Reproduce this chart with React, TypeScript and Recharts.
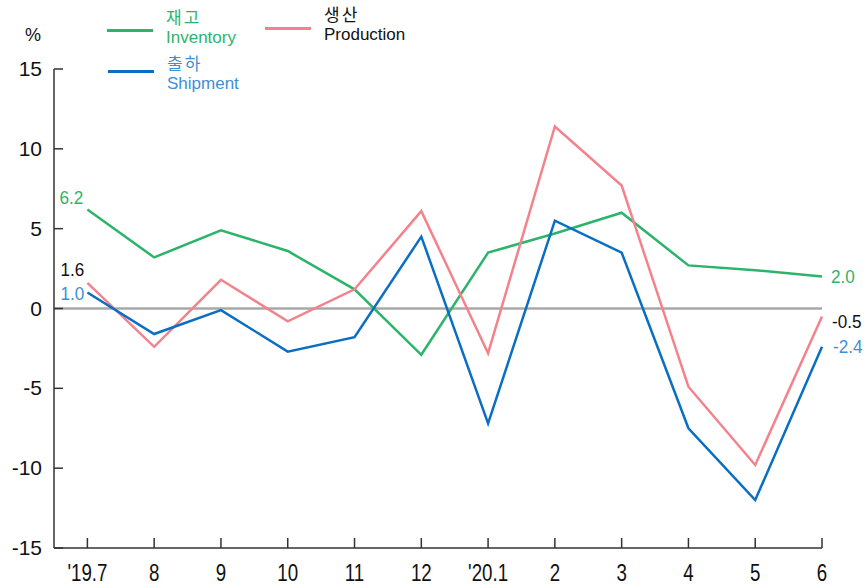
import React from 'react'
import { LineChart, Line, XAxis, YAxis, ReferenceLine } from 'recharts'

const months = ["'19.7", '8', '9', '10', '11', '12', "'20.1", '2', '3', '4', '5', '6']
const inventory = [6.2, 3.2, 4.9, 3.6, 1.2, -2.9, 3.5, 4.7, 6.0, 2.7, 2.4, 2.0]
const production = [1.6, -2.4, 1.8, -0.8, 1.2, 6.1, -2.8, 11.4, 7.7, -4.9, -9.8, -0.5]
const shipment = [1.0, -1.6, -0.1, -2.7, -1.8, 4.5, -7.2, 5.5, 3.5, -7.5, -12.0, -2.4]
const yTicks = [-15, -10, -5, 0, 5, 10, 15]

const GREEN = '#2db46a'
const PINK = '#f2838c'
const BLUE = '#0a6fc2'
const LIGHT_BLUE = '#3d8fd6'
const AXIS = '#333333'
const FONT = 'Liberation Sans, Arial, sans-serif'

const data = months.map((m, i) => ({
  i,
  inventory: inventory[i],
  production: production[i],
  shipment: shipment[i],
}))

const YTick = (props: any) => {
  const { x, y, payload } = props
  return (
    <g>
      <line x1={x} x2={x + 9} y1={y} y2={y} stroke={AXIS} strokeWidth={1.5} />
      <text x={x - 12} y={y} dy={7} textAnchor="end" fontSize={21} fontFamily={FONT} fill="#111">
        {payload.value}
      </text>
    </g>
  )
}

// x labels are condensed in the original
const XTick = (props: any) => {
  const { x, y, payload } = props
  return (
    <g>
      <line x1={x} x2={x} y1={y} y2={y - 10} stroke={AXIS} strokeWidth={1.5} />
      <text
        transform={`translate(${x},${y + 33}) scale(0.78,1)`}
        textAnchor="middle"
        fontSize={24}
        fontFamily={FONT}
        fill="#111"
      >
        {months[payload.value]}
      </text>
    </g>
  )
}

// only first and last point get a value label
const makeLabel = (color: string, first: [number, number], last: [number, number]) => (props: any) => {
  const { x, y, index, value } = props
  if (index === 0) {
    return (
      <text
        transform={`translate(${x + first[0]},${y + first[1]}) scale(0.9,1)`}
        textAnchor="middle"
        fontSize={19}
        fontFamily={FONT}
        fill={color}
      >
        {value.toFixed(1)}
      </text>
    )
  }
  if (index === months.length - 1) {
    return (
      <text
        transform={`translate(${x + last[0]},${y + last[1]}) scale(0.9,1)`}
        textAnchor="start"
        fontSize={19}
        fontFamily={FONT}
        fill={color}
      >
        {value.toFixed(1)}
      </text>
    )
  }
  return null
}

const legendText = (color: string, left: number, top: number, ko: string, en: string) => (
  <div style={{ position: 'absolute', left, top, color, fontFamily: FONT, lineHeight: '21px' }}>
    <div style={{ fontSize: 17, fontFamily: '"Noto Sans CJK KR", sans-serif', letterSpacing: 2 }}>{ko}</div>
    <div style={{ fontSize: 17 }}>{en}</div>
  </div>
)

const legendLine = (color: string, left: number, top: number) => (
  <div style={{ position: 'absolute', left, top, width: 46, height: 3, background: color }} />
)

export default function App() {
  return (
    <div style={{ position: 'absolute', left: 0, top: 0, width: 865, height: 587, background: '#fff' }}>
      <LineChart width={865} height={587} data={data} margin={{ top: 69, right: 43, bottom: 9, left: 14 }}>
        <XAxis
          dataKey="i"
          type="number"
          domain={[-0.5, 11]}
          ticks={months.map((_, i) => i)}
          tick={<XTick />}
          tickLine={false}
          tickSize={0}
          tickMargin={0}
          height={30}
          stroke={AXIS}
          strokeWidth={1.5}
          interval={0}
        />
        <YAxis
          domain={[-15, 15]}
          ticks={yTicks}
          tick={<YTick />}
          tickLine={false}
          tickSize={0}
          tickMargin={0}
          width={40}
          stroke={AXIS}
          strokeWidth={1.5}
          interval={0}
        />
        <ReferenceLine y={0} stroke="#a8a8a8" strokeWidth={2.5} />
        <Line
          dataKey="inventory"
          stroke={GREEN}
          strokeWidth={2.5}
          dot={false}
          isAnimationActive={false}
          label={makeLabel(GREEN, [-16, -6], [9, 6])}
        />
        <Line
          dataKey="production"
          stroke={PINK}
          strokeWidth={2.5}
          dot={false}
          isAnimationActive={false}
          label={makeLabel('#111', [-15, -7], [10, 12])}
        />
        <Line
          dataKey="shipment"
          stroke={BLUE}
          strokeWidth={2.5}
          dot={false}
          isAnimationActive={false}
          label={makeLabel(LIGHT_BLUE, [-15, 7], [11, 6])}
        />
      </LineChart>
      <div style={{ position: 'absolute', left: 25, top: 25, fontSize: 18, fontFamily: FONT, color: '#111' }}>%</div>
      {legendLine(GREEN, 107, 29)}
      {legendText(GREEN, 166, 6, '재고', 'Inventory')}
      {legendLine(PINK, 265, 27)}
      {legendText('#111', 324, 3, '생산', 'Production')}
      {legendLine(BLUE, 108, 70)}
      {legendText(LIGHT_BLUE, 167, 52, '출하', 'Shipment')}
    </div>
  )
}
